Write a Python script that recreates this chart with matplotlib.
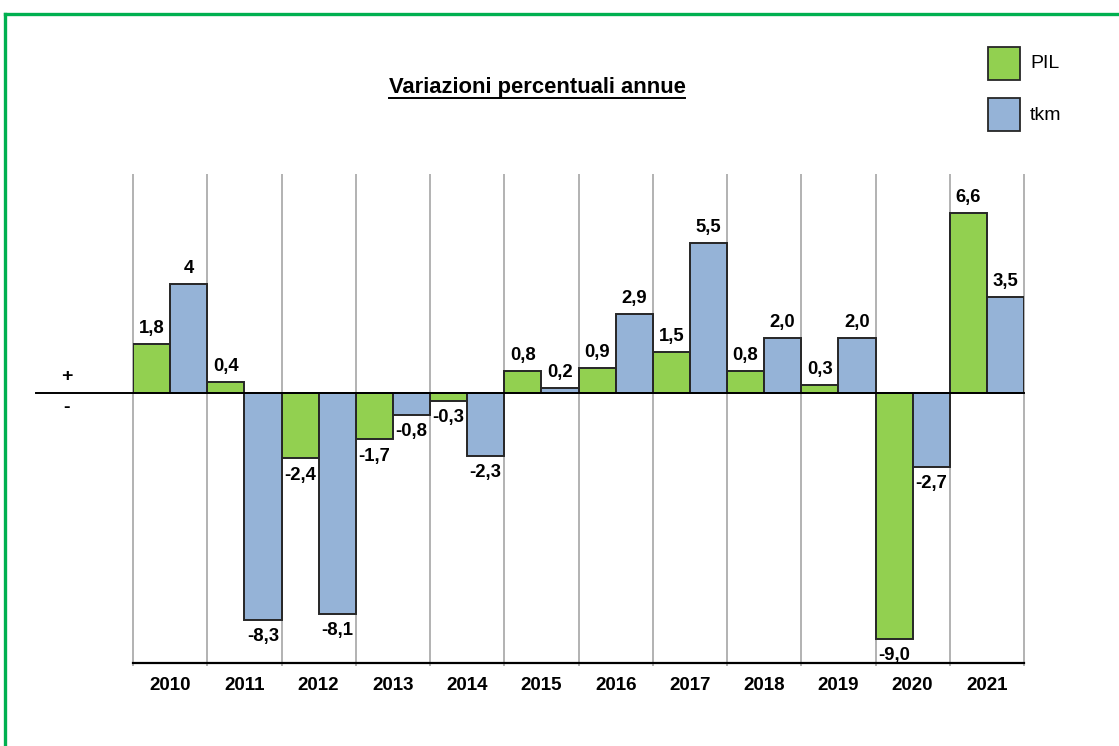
import numpy as np
import matplotlib
matplotlib.use("Agg")
import matplotlib.pyplot as plt
from matplotlib.lines import Line2D
from matplotlib.patches import Rectangle

years = ["2010", "2011", "2012", "2013", "2014", "2015",
         "2016", "2017", "2018", "2019", "2020", "2021"]
pil = [1.8, 0.4, -2.4, -1.7, -0.3, 0.8, 0.9, 1.5, 0.8, 0.3, -9.0, 6.6]
tkm = [4.0, -8.3, -8.1, -0.8, -2.3, 0.2, 2.9, 5.5, 2.0, 2.0, -2.7, 3.5]
pil_labels = ["1,8", "0,4", "-2,4", "-1,7", "-0,3", "0,8",
              "0,9", "1,5", "0,8", "0,3", "-9,0", "6,6"]
tkm_labels = ["4", "-8,3", "-8,1", "-0,8", "-2,3", "0,2",
              "2,9", "5,5", "2,0", "2,0", "-2,7", "3,5"]

GREEN = "#92D050"
BLUE = "#95B3D7"
EDGE = "#262626"
FONT = "Liberation Sans"

W, H = 1119, 746
fig = plt.figure(figsize=(W / 100, H / 100), dpi=100)
plt.rcParams["font.family"] = [FONT, "DejaVu Sans"]

x0, x1, y_top, y_bot = 133, 1024, 174, 663
ax = fig.add_axes([x0 / W, 1 - y_bot / H, (x1 - x0) / W, (y_bot - y_top) / H])
ymin, ymax = -9.89, 8.02
ax.set_xlim(-0.5, 11.5)
ax.set_ylim(ymin, ymax)

x = np.arange(len(years))
ax.vlines(np.arange(13) - 0.5, ymin - 0.12, ymax, colors="#a6a6a6",
          linewidth=1.2, clip_on=False, zorder=1)

ax.bar(x - 0.25, pil, width=0.5, color=GREEN, edgecolor=EDGE, linewidth=1.4, zorder=3)
ax.bar(x + 0.25, tkm, width=0.5, color=BLUE, edgecolor=EDGE, linewidth=1.4, zorder=3)

for xs, vals, labs in [(x - 0.25, pil, pil_labels), (x + 0.25, tkm, tkm_labels)]:
    for xi, v, lab in zip(xs, vals, labs):
        if v >= 0:
            ax.annotate(lab, (xi, v), xytext=(0, 5), textcoords="offset points",
                        ha="center", va="bottom", fontsize=13.3, fontweight="bold", zorder=5)
        else:
            ax.annotate(lab, (xi, v), xytext=(0, -6), textcoords="offset points",
                        ha="center", va="top", fontsize=13.3, fontweight="bold", zorder=5)

# zero line reaching to the left of the plot
ax.plot([(36 - x0) / (x1 - x0), 1], [0, 0], color="black", linewidth=1.4,
        transform=ax.get_yaxis_transform(), clip_on=False, zorder=4)
ax.axhline(ymin, color="black", linewidth=1.6, clip_on=False, zorder=4)

for s in ax.spines.values():
    s.set_visible(False)
ax.set_yticks([])
ax.set_xticks(x)
ax.set_xticklabels(years, fontsize=13.5, fontweight="bold")
ax.tick_params(axis="x", length=0, pad=10)

fig.text(67 / W, 1 - 377 / H, "+", ha="center", va="center", fontsize=14, fontweight="bold")
fig.text(67 / W, 1 - 408 / H, "-", ha="center", va="center", fontsize=14, fontweight="bold")

title = fig.text(537 / W, 1 - 88 / H, "Variazioni percentuali annue", ha="center", va="center",
                 fontsize=15.8, fontweight="bold")
fig.canvas.draw()
bb = title.get_window_extent()
fig.add_artist(Line2D([bb.x0 / W, bb.x1 / W], [(bb.y0 + 1) / H, (bb.y0 + 1) / H],
                      color="black", linewidth=1.4, transform=fig.transFigure))

# legend
for ytop, col, lab in [(47, GREEN, "PIL"), (98, BLUE, "tkm")]:
    fig.add_artist(Rectangle((988 / W, 1 - (ytop + 33) / H), 32 / W, 33 / H,
                             facecolor=col, edgecolor=EDGE, linewidth=1.3,
                             transform=fig.transFigure))
    fig.text(1030 / W, 1 - (ytop + 17) / H, lab, ha="left", va="center", fontsize=14)

# green frame
fig.add_artist(Line2D([5 / W, 1], [1 - 14 / H, 1 - 14 / H], color="#00B050",
                      linewidth=2.4, transform=fig.transFigure))
fig.add_artist(Line2D([5 / W, 5 / W], [0, 1 - 14 / H], color="#00B050",
                      linewidth=2.4, transform=fig.transFigure))

fig.savefig("out.png", dpi=100)
